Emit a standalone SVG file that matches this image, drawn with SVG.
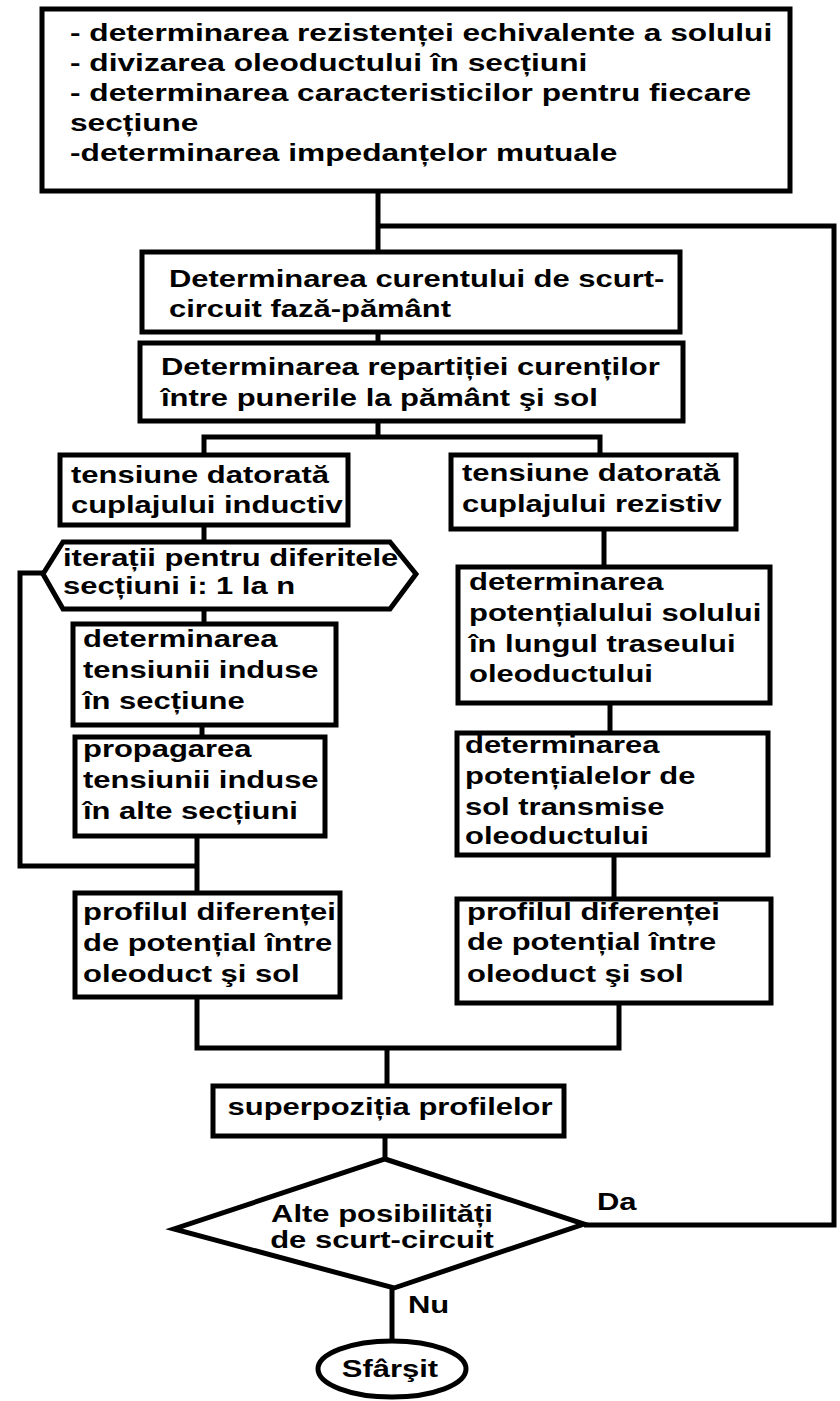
<svg xmlns="http://www.w3.org/2000/svg" width="840" height="1401" viewBox="0 0 840 1401">
<style>
.b{fill:#fff;stroke:#000;stroke-width:5;stroke-linejoin:miter}
.c{fill:none;stroke:#000;stroke-width:5;stroke-linejoin:miter}
.t{font-family:"Liberation Sans",Arial,sans-serif;font-weight:bold;font-size:24px;fill:#000}
.m{text-anchor:middle}
</style>
<rect width="840" height="1401" fill="#fff"/>
<g id="connectors">
<line class="c" x1="378" y1="191" x2="378" y2="252"/>
<polyline class="c" points="378,226 834,226 834,1225 584,1225"/>
<line class="c" x1="378" y1="332" x2="378" y2="343"/>
<polyline class="c" points="378,421 378,437"/>
<polyline class="c" points="204,455 204,437 600,437 600,455"/>
<line class="c" x1="204" y1="525" x2="204" y2="543"/>
<polyline class="c" points="43,573 20,573 20,866 197,866"/>
<line class="c" x1="204" y1="610" x2="204" y2="624"/>
<line class="c" x1="202" y1="725" x2="202" y2="737"/>
<line class="c" x1="197" y1="836" x2="197" y2="893"/>
<line class="c" x1="604" y1="529" x2="604" y2="567"/>
<line class="c" x1="610" y1="703" x2="610" y2="733"/>
<line class="c" x1="614" y1="855" x2="614" y2="899"/>
<polyline class="c" points="197,997 197,1048 619,1048 619,1003"/>
<line class="c" x1="387" y1="1048" x2="387" y2="1086"/>
<line class="c" x1="385" y1="1136" x2="385" y2="1159"/>
<line class="c" x1="392" y1="1288" x2="392" y2="1341"/>
<text class="t" transform="translate(597,1210) scale(1.29,1)">Da</text>
<text class="t" transform="translate(408,1313) scale(1.29,1)">Nu</text>
</g>
<g id="n-top">
<rect class="b" x="42" y="9" width="748" height="182"/>
<text class="t" transform="translate(70,41) scale(1.32,1)"><tspan x="0" y="0">- determinarea rezistenței echivalente a solului</tspan><tspan x="0" y="30">- divizarea oleoductului în secțiuni</tspan><tspan x="0" y="60">- determinarea caracteristicilor pentru fiecare</tspan><tspan x="0" y="90">secțiune</tspan><tspan x="0" y="120">-determinarea impedanțelor mutuale</tspan></text>
</g>
<g id="n-curent">
<rect class="b" x="142" y="252" width="538" height="80"/>
<text class="t" transform="translate(169,287) scale(1.29,1)"><tspan x="0" y="0">Determinarea curentului de scurt-</tspan><tspan x="0" y="30">circuit fază-pământ</tspan></text>
</g>
<g id="n-repartitie">
<rect class="b" x="140" y="343" width="543" height="78"/>
<text class="t" transform="translate(161,375) scale(1.29,1)"><tspan x="0" y="0">Determinarea repartiției curenților</tspan><tspan x="0" y="31">între punerile la pământ şi sol</tspan></text>
</g>
<g id="n-inductiv">
<rect class="b" x="60" y="455" width="288" height="70"/>
<text class="t" transform="translate(71,483) scale(1.29,1)"><tspan x="0" y="0">tensiune datorată</tspan><tspan x="0" y="30">cuplajului inductiv</tspan></text>
</g>
<g id="n-rezistiv">
<rect class="b" x="451" y="455" width="285" height="74"/>
<text class="t" transform="translate(462,481) scale(1.29,1)"><tspan x="0" y="0">tensiune datorată</tspan><tspan x="0" y="31">cuplajului rezistiv</tspan></text>
</g>
<g id="n-iteratii">
<polygon class="b" points="43,574 63,542 390,542 416,574 390,609 63,609"/>
<text class="t" transform="translate(63,566) scale(1.29,1)"><tspan x="0" y="0">iterații pentru diferitele</tspan><tspan x="0" y="28">secțiuni i: 1 la n</tspan></text>
</g>
<g id="n-tensiunii">
<rect class="b" x="73" y="624" width="263" height="101"/>
<text class="t" transform="translate(83,647) scale(1.29,1)"><tspan x="0" y="0">determinarea</tspan><tspan x="0" y="31">tensiunii induse</tspan><tspan x="0" y="62">în secțiune</tspan></text>
</g>
<g id="n-propagarea">
<rect class="b" x="75" y="737" width="250" height="99"/>
<text class="t" transform="translate(83,757) scale(1.29,1)"><tspan x="0" y="0">propagarea</tspan><tspan x="0" y="31">tensiunii induse</tspan><tspan x="0" y="62">în alte secțiuni</tspan></text>
</g>
<g id="n-potential-sol">
<rect class="b" x="458" y="567" width="312" height="136"/>
<text class="t" transform="translate(469,590) scale(1.29,1)"><tspan x="0" y="0">determinarea</tspan><tspan x="0" y="31">potențialului solului</tspan><tspan x="0" y="62">în lungul traseului</tspan><tspan x="0" y="92">oleoductului</tspan></text>
</g>
<g id="n-potentiale-transmise">
<rect class="b" x="457" y="733" width="311" height="122"/>
<text class="t" transform="translate(465,753) scale(1.29,1)"><tspan x="0" y="0">determinarea</tspan><tspan x="0" y="31">potențialelor de</tspan><tspan x="0" y="62">sol transmise</tspan><tspan x="0" y="91">oleoductului</tspan></text>
</g>
<g id="n-profil-st">
<rect class="b" x="75" y="893" width="265" height="104"/>
<text class="t" transform="translate(83,920) scale(1.29,1)"><tspan x="0" y="0">profilul diferenței</tspan><tspan x="0" y="31">de potențial între</tspan><tspan x="0" y="62">oleoduct şi sol</tspan></text>
</g>
<g id="n-profil-dr">
<rect class="b" x="457" y="899" width="314" height="104"/>
<text class="t" transform="translate(467,920) scale(1.29,1)"><tspan x="0" y="0">profilul diferenței</tspan><tspan x="0" y="30">de potențial între</tspan><tspan x="0" y="62">oleoduct şi sol</tspan></text>
</g>
<g id="n-superpozitia">
<rect class="b" x="213" y="1086" width="351" height="50"/>
<text class="t m" transform="translate(390,1115) scale(1.29,1)">superpoziția profilelor</text>
</g>
<g id="n-decizie">
<polygon class="b" points="385,1159 584,1224 394,1288 174,1229"/>
<text class="t m" transform="translate(382,1222) scale(1.29,1)"><tspan x="0" y="0">Alte posibilități</tspan><tspan x="0" y="26">de scurt-circuit</tspan></text>
</g>
<g id="n-sfarsit">
<ellipse class="b" cx="392" cy="1369" rx="74" ry="28"/>
<text class="t m" transform="translate(390,1377) scale(1.29,1)">Sfârşit</text>
</g>
</svg>
